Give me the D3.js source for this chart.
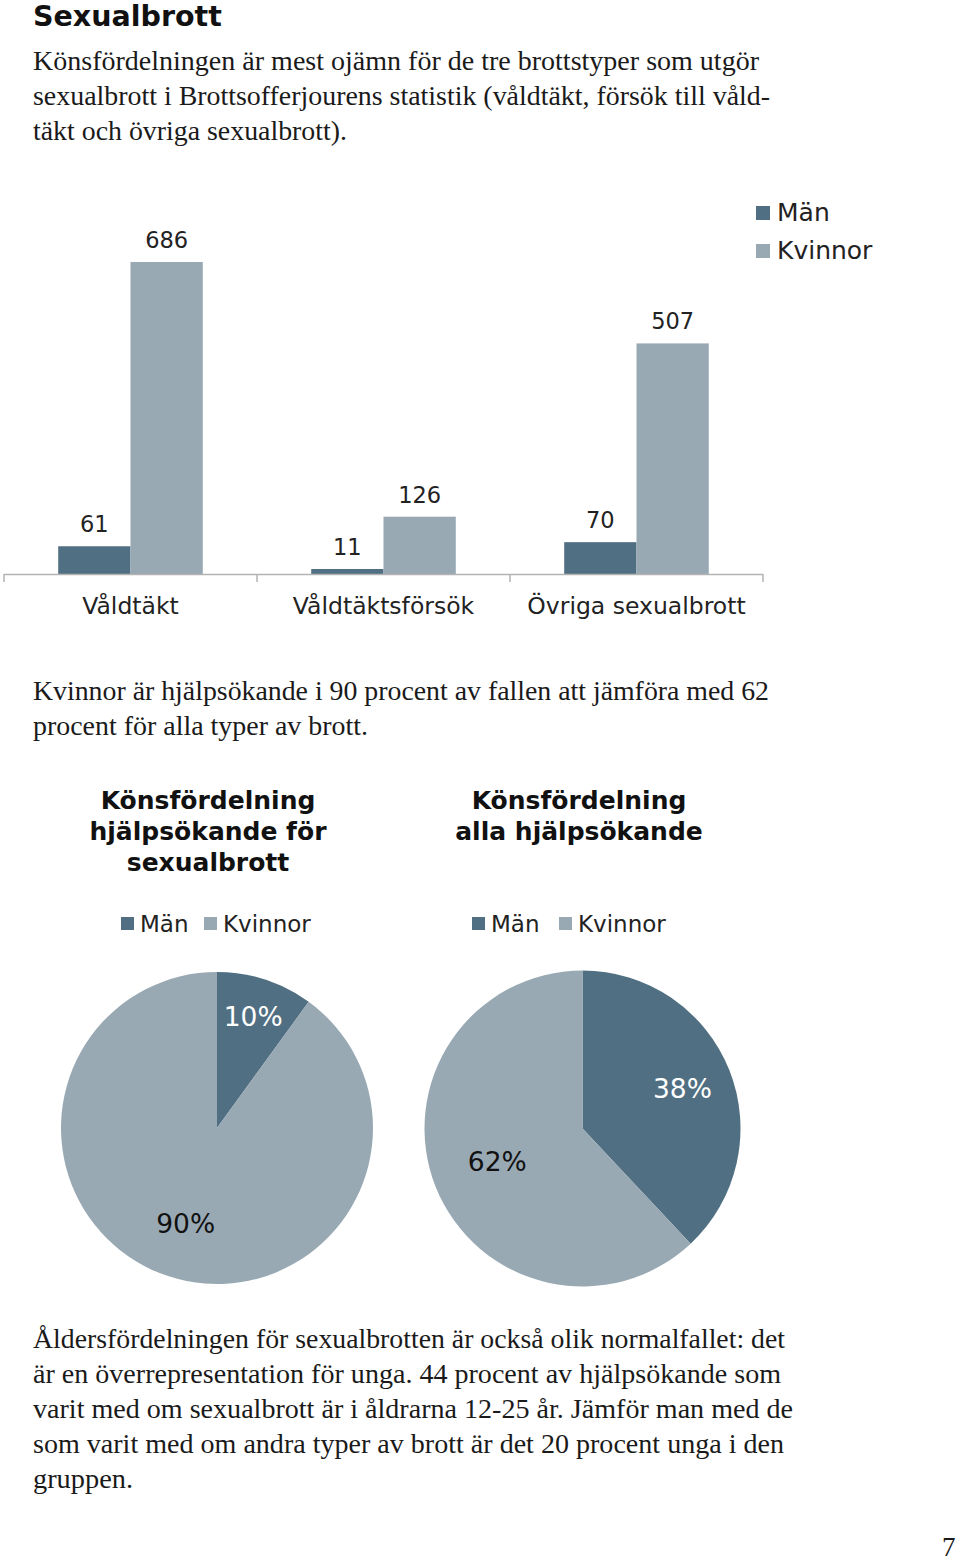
<!DOCTYPE html>
<html>
<head>
<meta charset="utf-8">
<script src="https://cdn.jsdelivr.net/npm/d3@7"></script>
<style>
  html, body { margin: 0; padding: 0; background: #fff; }
  svg { display: block; }
</style>
</head>
<body>
<svg id="page" width="960" height="1564"></svg>
<script>
// ---------- data ----------
const categories = ["Våldtäkt", "Våldtäktsförsök", "Övriga sexualbrott"];
const seriesNames = ["Män", "Kvinnor"];
const menValues = [61, 11, 70];
const womenValues = [686, 126, 507];
const pieSexualValues = [10, 90];   // Män, Kvinnor
const pieAllValues = [38, 62];      // Män, Kvinnor
const pieSexualTitle = ["Könsfördelning", "hjälpsökande för", "sexualbrott"];
const pieAllTitle = ["Könsfördelning", "alla hjälpsökande"];
const heading = "Sexualbrott";
const para1 = [
  "Könsfördelningen är mest ojämn för de tre brottstyper som utgör",
  "sexualbrott i Brottsofferjourens statistik (våldtäkt, försök till våld-",
  "täkt och övriga sexualbrott)."
];
const para2 = [
  "Kvinnor är hjälpsökande i 90 procent av fallen att jämföra med 62",
  "procent för alla typer av brott."
];
const para3 = [
  "Åldersfördelningen för sexualbrotten är också olik normalfallet: det",
  "är en överrepresentation för unga. 44 procent av hjälpsökande som",
  "varit med om sexualbrott är i åldrarna 12-25 år. Jämför man med de",
  "som varit med om andra typer av brott är det 20 procent unga i den",
  "gruppen."
];
const pageNumber = "7";

// ---------- style ----------
const colors = { "Män": "#516f82", "Kvinnor": "#98a9b4" };
const SANS = "'DejaVu Sans', Verdana, sans-serif";
const SERIF = "'Liberation Serif', 'DejaVu Serif', Georgia, serif";

const svg = d3.select("#page");
svg.append("rect").attr("width", 960).attr("height", 1564).attr("fill", "#fff");

// ---------- heading & paragraphs ----------
svg.append("text").attr("x", 33).attr("y", 26)
  .attr("font-family", SANS).attr("font-weight", "bold").attr("font-size", 28.5)
  .attr("fill", "#111").text(heading);

function paragraph(lines, x, y0, lh, widths) {
  lines.forEach((t, i) => {
    const el = svg.append("text").attr("x", x).attr("y", y0 + i * lh)
      .attr("font-family", SERIF).attr("font-size", 26.5).attr("fill", "#1a1a1a").text(t);
    if (widths && widths[i]) el.attr("textLength", widths[i]).attr("lengthAdjust", "spacingAndGlyphs");
  });
}
paragraph(para1, 33, 70, 35, [726, 737, 314]);
paragraph(para2, 33, 700, 35, [736, 335]);
paragraph(para3, 33, 1348, 35, [752, 748, 760, 751, 100]);

svg.append("text").attr("x", 942).attr("y", 1556)
  .attr("font-family", SERIF).attr("font-size", 27).attr("fill", "#1a1a1a").text(pageNumber);

// ---------- bar chart ----------
const baseY = 574;
const x = d3.scaleBand().domain(categories).range([4, 763]).padding(0);
const xi = d3.scaleBand().domain(seriesNames).range([0, x.bandwidth()])
  .paddingInner(0).paddingOuter(0.75);
const y = d3.scaleLinear().domain([0, d3.max(womenValues)]).range([baseY, 262]);

const barData = [];
categories.forEach((c, i) => {
  barData.push({ cat: c, s: "Män", v: menValues[i] });
  barData.push({ cat: c, s: "Kvinnor", v: womenValues[i] });
});

const bars = svg.append("g");
bars.selectAll("rect").data(barData).join("rect")
  .attr("x", d => x(d.cat) + xi(d.s))
  .attr("width", xi.bandwidth())
  .attr("y", d => y(d.v))
  .attr("height", d => baseY - y(d.v))
  .attr("fill", d => colors[d.s]);

bars.selectAll("text.val").data(barData).join("text").attr("class", "val")
  .attr("x", d => x(d.cat) + xi(d.s) + xi.bandwidth() / 2)
  .attr("y", d => y(d.v) - 14)
  .attr("text-anchor", "middle")
  .attr("font-family", SANS).attr("font-size", 22.5).attr("fill", "#222")
  .text(d => d.v);

// axis line with ticks at category boundaries
const axisG = svg.append("g");
axisG.append("line").attr("x1", x.range()[0]).attr("x2", x.range()[1])
  .attr("y1", baseY + 0.5).attr("y2", baseY + 0.5)
  .attr("stroke", "#b3b3b3").attr("stroke-width", 1.5);
const bounds = categories.map(c => x(c)).concat([x.range()[1]]);
axisG.selectAll("line.tick").data(bounds).join("line").attr("class", "tick")
  .attr("x1", d => d).attr("x2", d => d)
  .attr("y1", baseY).attr("y2", baseY + 8)
  .attr("stroke", "#b3b3b3").attr("stroke-width", 1.5);
axisG.selectAll("text").data(categories).join("text")
  .attr("x", d => x(d) + x.bandwidth() / 2)
  .attr("y", 614)
  .attr("text-anchor", "middle")
  .attr("font-family", SANS).attr("font-size", 23.5).attr("fill", "#222")
  .text(d => d);

// bar legend
const leg = svg.append("g");
seriesNames.forEach((s, i) => {
  leg.append("rect").attr("x", 756).attr("y", 206 + i * 38).attr("width", 14).attr("height", 14)
    .attr("fill", colors[s]);
  leg.append("text").attr("x", 777).attr("y", 221 + i * 38)
    .attr("font-family", SANS).attr("font-size", 25).attr("fill", "#222").text(s);
});

// ---------- pies ----------
function drawPie(values, cx, cy, r, titleLines, titleX, legendX, legendGap, labelR, labelColors) {
  const g = svg.append("g");
  titleLines.forEach((t, i) => {
    g.append("text").attr("x", titleX).attr("y", 809 + i * 31)
      .attr("text-anchor", "middle")
      .attr("font-family", SANS).attr("font-weight", "bold").attr("font-size", 25)
      .attr("fill", "#111").text(t);
  });
  // legend
  let lx = legendX;
  seriesNames.forEach((s, i) => {
    g.append("rect").attr("x", lx).attr("y", 917).attr("width", 13).attr("height", 13)
      .attr("fill", colors[s]);
    g.append("text").attr("x", lx + 19).attr("y", 932)
      .attr("font-family", SANS).attr("font-size", 23).attr("fill", "#222").text(s);
    lx += legendGap[i];
  });
  const pie = d3.pie().sort(null).value(d => d)(values);
  const arc = d3.arc().innerRadius(0).outerRadius(r);
  const pg = g.append("g").attr("transform", `translate(${cx},${cy})`);
  pg.selectAll("path").data(pie).join("path")
    .attr("d", arc)
    .attr("fill", (d, i) => colors[seriesNames[i]]);
  pg.selectAll("text").data(pie).join("text")
    .attr("transform", (d, i) => {
      const la = d3.arc().innerRadius(r * labelR[i]).outerRadius(r * labelR[i]);
      const c = la.centroid(d);
      return `translate(${c[0]},${c[1] + 9})`;
    })
    .attr("text-anchor", "middle")
    .attr("font-family", SANS).attr("font-size", 26.5)
    .attr("fill", (d, i) => labelColors[i])
    .text(d => d.data + "%");
}

drawPie(pieSexualValues, 217, 1128, 156, pieSexualTitle, 208, 121, [83], [0.75, 0.65], ["#fff", "#111"]);
drawPie(pieAllValues, 582.5, 1128.5, 158, pieAllTitle, 579, 472, [87], [0.68, 0.58], ["#fff", "#111"]);
</script>
</body>
</html>
